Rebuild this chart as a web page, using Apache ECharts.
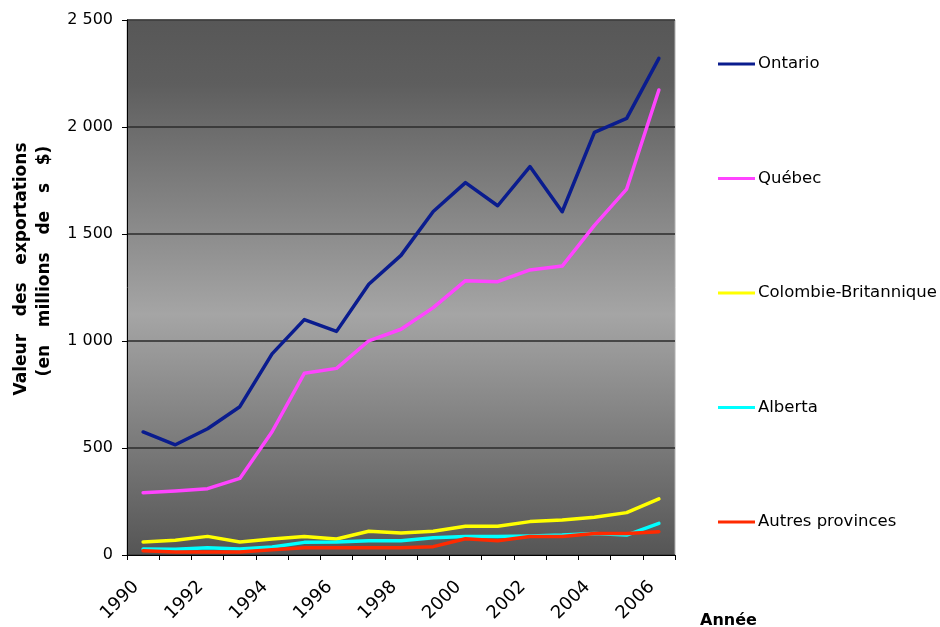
<!DOCTYPE html>
<html>
<head>
<meta charset="utf-8">
<script src="https://cdn.jsdelivr.net/npm/echarts@6/dist/echarts.min.js"></script>
<style>
  html, body { margin: 0; padding: 0; background: #ffffff; }
  #chart { width: 940px; height: 627px; }
</style>
</head>
<body>
<div id="chart"></div>
<script>
// Valeur des exportations par province, 1990-2006 (millions de $)
const annees = ['1990','1991','1992','1993','1994','1995','1996','1997','1998',
                '1999','2000','2001','2002','2003','2004','2005','2006'];

const ontario   = [575, 515, 590, 693, 940, 1100, 1045, 1265, 1400, 1605, 1740, 1632, 1815, 1604, 1975, 2040, 2321];
const quebec    = [291, 299, 310, 358, 576, 849, 872, 1001, 1055, 1156, 1282, 1277, 1332, 1350, 1540, 1710, 2173];
const colombieB = [61, 69, 87, 61, 75, 87, 75, 111, 103, 111, 134, 134, 156, 164, 176, 198, 262];
const alberta   = [28, 27, 34, 28, 37, 59, 61, 67, 67, 81, 87, 87, 89, 93, 101, 93, 148];
const autres    = [20, 14, 14, 14, 25, 34, 34, 34, 34, 39, 76, 67, 86, 86, 101, 101, 109];

const yTicks = [0, 500, 1000, 1500, 2000, 2500];

const seriesDefs = [
  { name: 'Ontario',              data: ontario,   color: '#0a1c8e' },
  { name: 'Québec',               data: quebec,    color: '#ff44ff' },
  { name: 'Colombie-Britannique', data: colombieB, color: '#ffff00' },
  { name: 'Alberta',              data: alberta,   color: '#00ffff' },
  { name: 'Autres provinces',     data: autres,    color: '#ff2a00' }
];

const chart = echarts.init(document.getElementById('chart'), null, { renderer: 'canvas' });

const fmtThousands = v => String(v).replace(/\B(?=(\d{3})+(?!\d))/g, ' ');

chart.setOption({
  animation: false,
  backgroundColor: '#ffffff',
  grid: {
    left: 127, right: 265, top: 20, bottom: 72,
    show: true,
    borderWidth: 1,
    borderColor: '#b0b0b0',
    backgroundColor: new echarts.graphic.LinearGradient(0, 0, 0, 1, [
      { offset: 0,    color: '#575757' },
      { offset: 0.12, color: '#5e5e5e' },
      { offset: 0.55, color: '#a5a5a5' },
      { offset: 0.85, color: '#707070' },
      { offset: 1,    color: '#555555' }
    ])
  },
  legend: {
    orient: 'vertical',
    left: 713,
    top: 49,
    icon: 'rect',
    itemWidth: 37,
    itemHeight: 3,
    itemGap: 94.5,
    textStyle: {
      fontFamily: 'DejaVu Sans',
      fontSize: 16.5,
      color: '#000000',
      lineHeight: 20,
      padding: [0, 0, 0, -2]
    },
    data: seriesDefs.map(s => s.name)
  },
  xAxis: {
    type: 'category',
    data: annees,
    boundaryGap: true,
    axisLine: { lineStyle: { color: '#000000', width: 1 } },
    axisTick: { show: true, interval: 0, length: 5, inside: false, lineStyle: { color: '#000000' } },
    axisLabel: {
      interval: 1,
      rotate: 45,
      margin: 22,
      padding: [0, 10, 0, 0],
      fontFamily: 'DejaVu Sans',
      fontSize: 18,
      color: '#000000'
    },
    splitLine: { show: false }
  },
  yAxis: {
    type: 'value',
    min: yTicks[0],
    max: yTicks[yTicks.length - 1],
    interval: 500,
    axisLine: { show: true, lineStyle: { color: '#000000', width: 1 } },
    axisTick: { show: true, length: 5, lineStyle: { color: '#000000' } },
    axisLabel: {
      margin: 14,
      fontFamily: 'DejaVu Sans',
      fontSize: 16,
      color: '#000000',
      formatter: v => fmtThousands(v)
    },
    splitLine: { show: true, lineStyle: { color: '#2b2b2b', width: 1.5 } }
  },
  series: seriesDefs.map(s => ({
    name: s.name,
    type: 'line',
    data: s.data,
    symbol: 'none',
    smooth: false,
    color: s.color,
    lineStyle: { color: s.color, width: 3.5, join: 'round', cap: 'round' },
    emphasis: { disabled: true }
  })),
  graphic: [
    {
      type: 'text',
      x: 22, y: 269,
      rotation: Math.PI / 2,
      style: {
        text: 'Valeur   des   exportations',
        font: 'bold 17px "DejaVu Sans"',
        fill: '#000000',
        align: 'center',
        verticalAlign: 'middle'
      }
    },
    {
      type: 'text',
      x: 45, y: 261,
      rotation: Math.PI / 2,
      style: {
        text: '(en   millions   de   s   $)',
        font: 'bold 17px "DejaVu Sans"',
        fill: '#000000',
        align: 'center',
        verticalAlign: 'middle'
      }
    },
    {
      type: 'text',
      left: 700, top: 613,
      style: {
        text: 'Année',
        font: 'bold 16px "DejaVu Sans"',
        fill: '#000000'
      }
    }
  ]
});
</script>
</body>
</html>
